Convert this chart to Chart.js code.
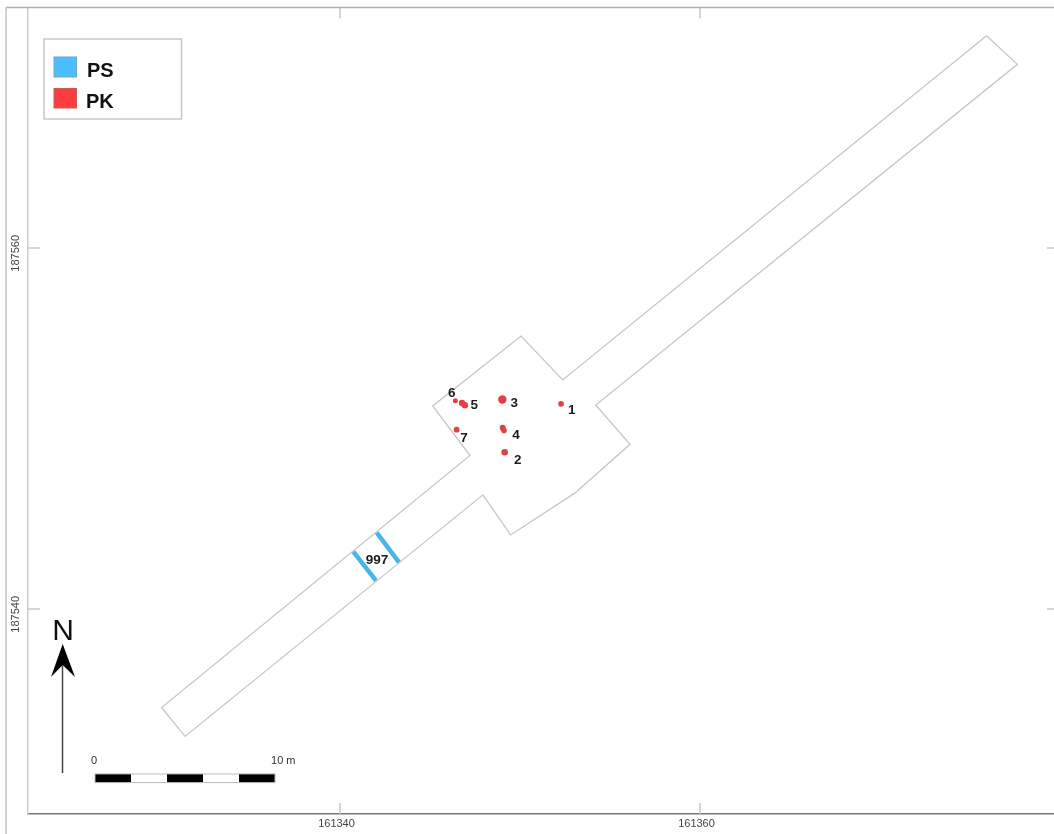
<!DOCTYPE html>
<html>
<head>
<meta charset="utf-8">
<title>PS / PK</title>
<script src="https://cdn.jsdelivr.net/npm/chart.js@4/dist/chart.umd.min.js"></script>
<style>
  html, body { margin: 0; padding: 0; background: #fff; }
  canvas { display: block; filter: blur(0.45px); }
</style>
</head>
<body>
<canvas id="myChart" width="1054" height="834"></canvas>
<script>
// tick labels
const xTicks = [161340, 161360];
const yTicks = [187540, 187560];

// trench outline, closed
const outlineX = [161375.92, 161377.63, 161354.21, 161356.11, 161353.06, 161349.48, 161347.94, 161331.39, 161330.09, 161347.22, 161345.15, 161350.06, 161352.37, 161375.92];
const outlineY = [187571.75, 187570.17, 187551.30, 187549.12, 187546.43, 187544.10, 187546.32, 187532.94, 187534.54, 187548.50, 187551.25, 187555.12, 187552.69, 187571.75];

// PS lines, null splits the two
const psX = [161340.74, 161342.00, null, 161342.04, 161343.29];
const psY = [187543.17, 187541.57, null, 187544.23, 187542.57];

// PK spots (4 and 5 are two blobs each)
const pkX = [161352.28, 161349.15, 161349.02, 161349.04, 161349.11, 161346.78, 161346.94, 161346.41, 161346.48];
const pkY = [187551.36, 187548.68, 187551.60, 187550.04, 187549.88, 187551.41, 187551.29, 187551.54, 187549.93];

// numbers next to the features
const siteLabels = ['1', '2', '3', '4', '5', '6', '7', '997'];
const siteLabelX = [161352.87, 161349.87, 161349.68, 161349.78, 161347.46, 161346.21, 161346.89, 161342.06];
const siteLabelY = [187551.03, 187548.25, 187551.40, 187549.64, 187551.26, 187551.95, 187549.46, 187542.71];

// scale bar, 10 m in 5 pieces
const scaleStops = [161326.39, 161328.39, 161330.39, 161332.39, 161334.39, 161336.39];
const scaleLabels = ['0', '10 m'];

const legendNames = ['PS', 'PK'];
const FONT = '"Liberation Sans", Arial, sans-serif';

function xy(xs, ys) {
  return xs.map((x, i) => ({ x: x, y: ys[i] }));
}

// ticks point inwards on all four sides, and the outer frame
const frameTicks = {
  id: 'frameTicks',
  beforeDatasetsDraw(chart) {
    const { ctx, chartArea: a, scales: { x, y } } = chart;
    ctx.save();
    ctx.strokeStyle = '#c8c8c8';
    ctx.lineWidth = 1.5;
    ctx.beginPath();
    xTicks.forEach(v => {
      const p = x.getPixelForValue(v);
      ctx.moveTo(p, a.bottom); ctx.lineTo(p, a.bottom - 11);
      ctx.moveTo(p, a.top); ctx.lineTo(p, a.top + 11);
    });
    yTicks.forEach(v => {
      const p = y.getPixelForValue(v);
      ctx.moveTo(a.left, p); ctx.lineTo(a.left + 12, p);
      ctx.moveTo(a.right, p); ctx.lineTo(a.right - 7, p);
    });
    ctx.stroke();
    // outer line left + top
    ctx.strokeStyle = '#d4d4d4';
    ctx.lineWidth = 2;
    ctx.beginPath();
    ctx.moveTo(6, 834); ctx.lineTo(6, a.top);
    ctx.stroke();
    ctx.strokeStyle = '#b0b0b0';
    ctx.lineWidth = 1.5;
    ctx.beginPath();
    ctx.moveTo(6, a.top); ctx.lineTo(a.right, a.top);
    ctx.stroke();
    ctx.restore();
  }
};

const mapBits = {
  id: 'mapBits',
  afterDatasetsDraw(chart) {
    const { ctx, scales: { x, y } } = chart;
    ctx.save();
    ctx.textAlign = 'center';
    ctx.textBaseline = 'middle';

    // feature numbers
    ctx.fillStyle = '#1c1c1c';
    ctx.font = 'bold 13.5px ' + FONT;
    siteLabels.forEach((t, i) => {
      ctx.fillText(t, x.getPixelForValue(siteLabelX[i]), y.getPixelForValue(siteLabelY[i]));
    });

    // legend box
    ctx.fillStyle = '#fff';
    ctx.strokeStyle = '#c8c8c8';
    ctx.lineWidth = 1.5;
    ctx.fillRect(44, 39, 137.5, 80);
    ctx.strokeRect(44, 39, 137.5, 80);
    ctx.lineWidth = 1;
    ctx.fillStyle = '#4dbdfd'; ctx.strokeStyle = '#6aa9cc';
    ctx.fillRect(54, 57, 22.5, 20); ctx.strokeRect(54, 57, 22.5, 20);
    ctx.fillStyle = '#fb3d3f'; ctx.strokeStyle = '#cf5a5a';
    ctx.fillRect(54, 88.5, 22.5, 19.5); ctx.strokeRect(54, 88.5, 22.5, 19.5);
    ctx.fillStyle = '#111';
    ctx.font = 'bold 20px ' + FONT;
    ctx.textAlign = 'left';
    ctx.textBaseline = 'alphabetic';
    ctx.fillText(legendNames[0], 87, 77);
    ctx.fillText(legendNames[1], 86, 108);

    // north arrow
    ctx.strokeStyle = '#444';
    ctx.lineWidth = 1.5;
    ctx.beginPath();
    ctx.moveTo(62.5, 773); ctx.lineTo(62.5, 662);
    ctx.stroke();
    ctx.fillStyle = '#000';
    ctx.beginPath();
    ctx.moveTo(62.7, 644); ctx.lineTo(75, 677); ctx.lineTo(62.7, 665); ctx.lineTo(51, 677);
    ctx.closePath();
    ctx.fill();
    ctx.fillStyle = '#111';
    ctx.font = '30px ' + FONT;
    ctx.textAlign = 'center';
    ctx.fillText('N', 63, 640);

    // scale bar goes through the x scale so it stays 10 m
    const top = y.getPixelForValue(187530.86);
    const bottom = y.getPixelForValue(187530.38);
    for (let i = 0; i < scaleStops.length - 1; i++) {
      const l = x.getPixelForValue(scaleStops[i]);
      const r = x.getPixelForValue(scaleStops[i + 1]);
      ctx.fillStyle = i % 2 === 0 ? '#000' : '#fff';
      ctx.fillRect(l, top, r - l, bottom - top);
    }
    const l0 = x.getPixelForValue(scaleStops[0]);
    const r0 = x.getPixelForValue(scaleStops[scaleStops.length - 1]);
    ctx.strokeStyle = '#bbb';
    ctx.lineWidth = 1;
    ctx.strokeRect(l0, top, r0 - l0, bottom - top);
    ctx.fillStyle = '#333';
    ctx.font = '11px ' + FONT;
    ctx.textBaseline = 'middle';
    ctx.textAlign = 'center';
    ctx.fillText(scaleLabels[0], l0 - 1, 761);
    ctx.textAlign = 'left';
    ctx.fillText(scaleLabels[1], r0 - 4, 761);
    ctx.restore();
  }
};

// chart.js reserves room for the end labels, we dont want that here
function noPadding(scale) {
  scale.paddingTop = scale.paddingBottom = scale.paddingLeft = scale.paddingRight = 0;
}

const config = {
  type: 'scatter',
  data: {
    datasets: [
      {
        label: 'outline',
        data: xy(outlineX, outlineY),
        showLine: true,
        pointRadius: 0,
        borderColor: '#c6c6c6',
        borderWidth: 1.3,
        tension: 0
      },
      {
        label: legendNames[0],
        data: xy(psX, psY),
        showLine: true,
        spanGaps: false,
        pointRadius: 0,
        borderColor: '#45b5ea',
        borderWidth: 4.5
      },
      {
        label: legendNames[1],
        data: xy(pkX, pkY),
        showLine: false,
        backgroundColor: '#e5403f',
        borderWidth: 0,
        pointRadius: [2.8, 3.3, 4.2, 3, 2.8, 3.2, 3.2, 2.5, 2.9]
      }
    ]
  },
  options: {
    responsive: false,
    animation: false,
    layout: { autoPadding: false, padding: { top: 7.5, left: 0, right: 0, bottom: 0 } },
    plugins: { legend: { display: false }, tooltip: { enabled: false } },
    scales: {
      x: {
        type: 'linear',
        min: 161322.667,
        max: 161379.667,
        afterBuildTicks(scale) { scale.ticks = xTicks.map(v => ({ value: v })); },
        afterFit(scale) { scale.height = 20; noPadding(scale); },
        grid: { drawOnChartArea: false, drawTicks: false },
        border: { color: '#777', width: 1.5 },
        ticks: {
          autoSkip: false,
          maxRotation: 0,
          padding: 3,
          labelOffset: -3.5,
          color: '#444',
          font: { family: FONT, size: 11 },
          callback: v => String(v)
        }
      },
      y: {
        type: 'linear',
        min: 187528.64,
        max: 187573.32,
        afterBuildTicks(scale) { scale.ticks = yTicks.map(v => ({ value: v })); },
        afterFit(scale) { scale.width = 28; noPadding(scale); },
        grid: { drawOnChartArea: false, drawTicks: false },
        border: { color: '#cccccc', width: 1.5 },
        ticks: {
          autoSkip: false,
          minRotation: 90,
          maxRotation: 90,
          padding: 12,
          labelOffset: -13,
          color: '#444',
          font: { family: FONT, size: 11 },
          callback: v => String(v)
        }
      }
    }
  },
  plugins: [frameTicks, mapBits]
};

const myChart = new Chart(document.getElementById('myChart').getContext('2d'), config);
</script>
</body>
</html>
